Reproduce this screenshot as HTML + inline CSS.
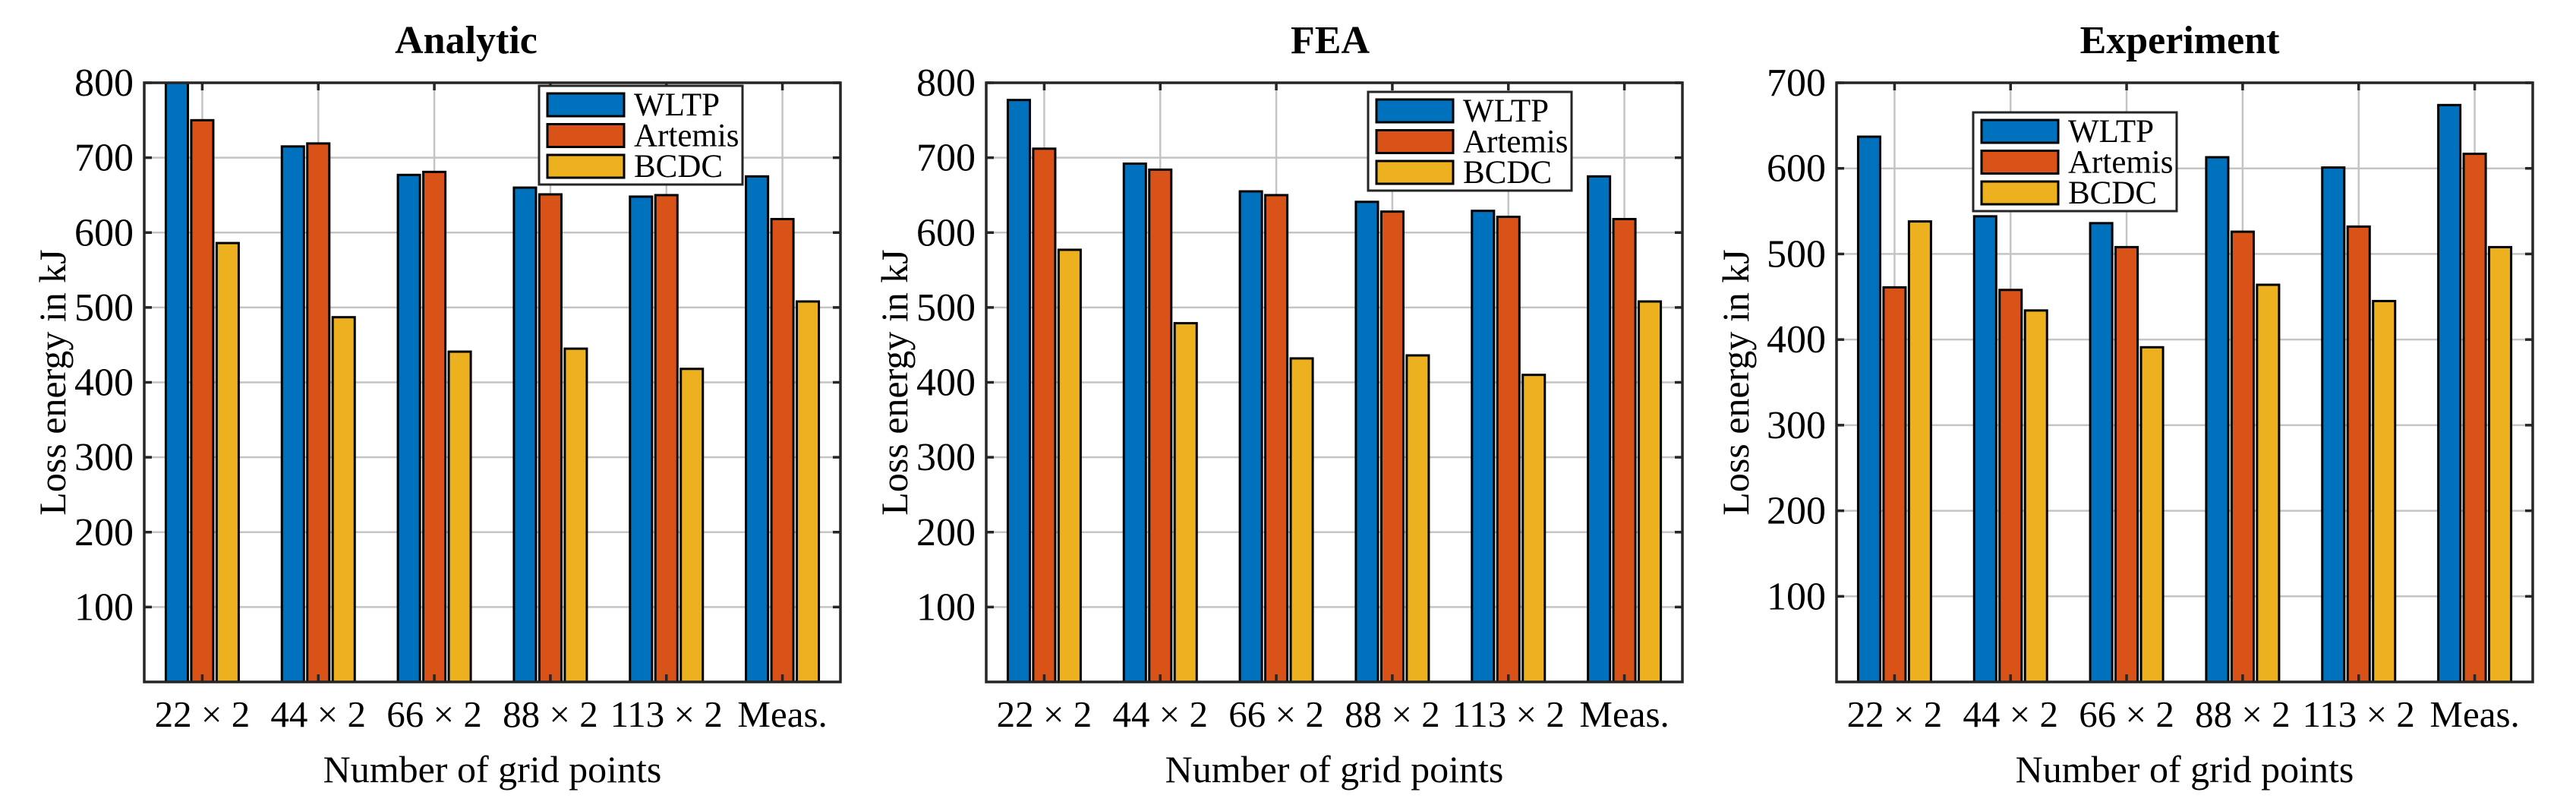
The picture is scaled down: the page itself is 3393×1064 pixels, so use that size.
<!DOCTYPE html>
<html><head><meta charset="utf-8"><style>
html,body{margin:0;padding:0;background:#fff;}
svg{display:block;font-family:"Liberation Serif",serif;}
</style></head><body>
<svg id="fig" width="3393" height="1064" viewBox="0 0 3393 1064" xmlns="http://www.w3.org/2000/svg"></svg>
<script>
const categories = ["22 × 2","44 × 2","66 × 2","88 × 2","113 × 2","Meas."];
const seriesNames = ["WLTP","Artemis","BCDC"];
const analyticWLTP = [810,715,677,660,648,675];
const analyticArtemis = [750,719,681,651,650,618];
const analyticBCDC = [586,487,441,445,418,508];
const feaWLTP = [777,692,655,641,629,675];
const feaArtemis = [712,684,650,628,621,618];
const feaBCDC = [577,479,432,436,410,508];
const expWLTP = [637,544,536,613,601,674];
const expArtemis = [461,458,508,526,532,617];
const expBCDC = [538,434,391,464,445,508];
const analyticTicks = [100,200,300,400,500,600,700,800];
const feaTicks = [100,200,300,400,500,600,700,800];
const expTicks = [100,200,300,400,500,600,700];

const colors = ["#0072BD","#D95319","#EDB120"];
const NS = "http://www.w3.org/2000/svg";
const svg = document.getElementById("fig");
function mk(tag, attrs, parent){
  const e = document.createElementNS(NS, tag);
  for (const k in attrs) e.setAttribute(k, attrs[k]);
  (parent||svg).appendChild(e);
  return e;
}
const panels = [
  {key:"analytic", title:"Analytic", left:190, ymax:800, ticks:analyticTicks, data:[analyticWLTP,analyticArtemis,analyticBCDC], titleX:614, ylabX:70, leg:[710,113]},
  {key:"fea", title:"FEA", left:1299, ymax:800, ticks:feaTicks, data:[feaWLTP,feaArtemis,feaBCDC], titleX:1752, ylabX:1179, leg:[1802,121]},
  {key:"experiment", title:"Experiment", left:2419, ymax:700, ticks:expTicks, data:[expWLTP,expArtemis,expBCDC], titleX:2871, ylabX:2287, leg:[2599,148]}
];
const W = 917, axTop = 109, axBottom = 898;
panels.forEach(p => {
  const g = mk("g", {});
  
  
  const xs = v => p.left + (v - 0.5) / 6 * W;
  const ys = v => axBottom - v / p.ymax * (axBottom - axTop);
  const clipId = "clip-" + p.key;
  const cp = mk("clipPath", {id: clipId}, g);
  mk("rect", {x:p.left, y:axTop, width:W, height:axBottom-axTop}, cp);
  const grid = mk("g", {stroke:"#c4c4c4", "stroke-width":2.5}, g);
  
  
  p.ticks.forEach(t => mk("line", {x1:p.left, x2:p.left+W, y1:ys(t), y2:ys(t)}, grid));
  categories.forEach((c,i) => mk("line", {x1:xs(i+1), x2:xs(i+1), y1:axTop, y2:axBottom}, grid));
  const bars = mk("g", {"clip-path":"url(#"+clipId+")"}, g);
  const bw = 0.19, off = 0.219;
  p.data.forEach((ser, s) => {
    ser.forEach((v, i) => {
      const cx = i + 1 + (s - 1) * off;
      const x0 = xs(cx - bw/2), x1 = xs(cx + bw/2);
      const r = mk("rect", {x:x0, y:ys(v), width:x1-x0, height:ys(0)-ys(v), fill:colors[s], stroke:"#000", "stroke-width":3}, bars);
      
      
    });
  });
  const ax = mk("g", {stroke:"#262626", "stroke-width":3.5, fill:"none"}, g);
  
  
  mk("rect", {x:p.left, y:axTop, width:W, height:axBottom-axTop}, ax);
  p.ticks.forEach(t => {
    mk("line", {x1:p.left, x2:p.left+10, y1:ys(t), y2:ys(t)}, ax);
    mk("line", {x1:p.left+W-10, x2:p.left+W, y1:ys(t), y2:ys(t)}, ax);
  });
  categories.forEach((c,i) => {
    mk("line", {x1:xs(i+1), x2:xs(i+1), y1:axTop, y2:axTop+10}, ax);
    mk("line", {x1:xs(i+1), x2:xs(i+1), y1:axBottom-10, y2:axBottom}, ax);
  });
  p.ticks.forEach(t => {
    const tx = mk("text", {x:p.left-14, y:ys(t)+17, "font-size":52, "text-anchor":"end", fill:"#000"}, g);
    tx.textContent = t;
    
    
  });
  categories.forEach((c,i) => {
    const tx = mk("text", {x:xs(i+1), y:957, "font-size":49, "text-anchor":"middle", fill:"#000"}, g);
    tx.textContent = c;
    
    
  });
  const tt = mk("text", {x:p.titleX, y:70, "font-size":52, "font-weight":"bold", "text-anchor":"middle", fill:"#000"}, g);
  tt.textContent = p.title;
  
  
  const xl = mk("text", {x:p.left+W/2, y:1030, "font-size":50, "text-anchor":"middle", fill:"#000"}, g);
  xl.textContent = "Number of grid points";
  
  
  const yl = mk("text", {x:0, y:0, "font-size":50, "text-anchor":"middle", fill:"#000", transform:"translate("+(p.ylabX+16)+","+((axTop+axBottom)/2)+") rotate(-90)"}, g);
  yl.textContent = "Loss energy in kJ";
  
  
  const [lx, ly] = p.leg;
  const lg = mk("g", {}, g);
  
  
  mk("rect", {x:lx, y:ly, width:268, height:130, fill:"#fff", stroke:"#262626", "stroke-width":3}, lg);
  seriesNames.forEach((n, s) => {
    const ry = ly + 10 + s * 40.5;
    const e = mk("g", {}, lg);
    
    
    mk("rect", {x:lx+11, y:ry, width:101, height:30, fill:colors[s], stroke:"#000", "stroke-width":3}, e);
    const t = mk("text", {x:lx+125, y:ry+29, "font-size":43, fill:"#000"}, e);
    t.textContent = n;
  });
});
</script>
</body></html>
